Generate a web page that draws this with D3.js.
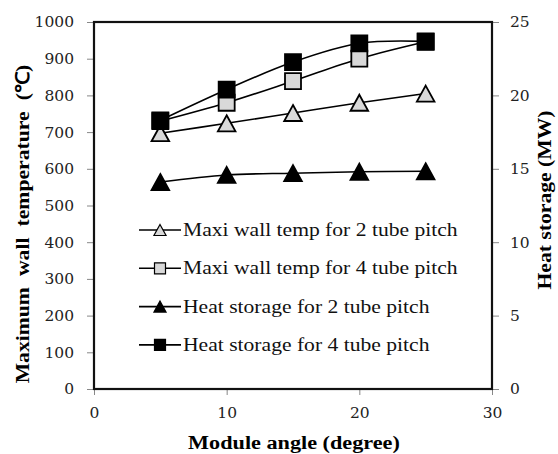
<!DOCTYPE html>
<html>
<head>
<meta charset="utf-8">
<script src="https://d3js.org/d3.v7.min.js"></script>
<style>
  body { margin: 0; background: #fff; }
  svg { display: block; }
</style>
</head>
<body>
<div id="chart"></div>
<script>
var angles = [5, 10, 15, 20, 25];
var wallTemp2 = [697, 724, 752, 780, 805];
var wallTemp4 = [730, 780, 839, 900, 946];
var heat2 = [14.1, 14.58, 14.7, 14.8, 14.83];
var heat4 = [18.3, 20.4, 22.27, 23.55, 23.68];

var xTicks = [0, 10, 20, 30];
var yTicks = [0, 100, 200, 300, 400, 500, 600, 700, 800, 900, 1000];
var y2Ticks = [0, 5, 10, 15, 20, 25];

var legendNames = [
  "Maxi wall temp for 2 tube pitch",
  "Maxi wall temp for 4 tube pitch",
  "Heat storage for 2 tube pitch",
  "Heat storage for 4 tube pitch"
];

var W = 558, H = 454;
var margin = { top: 22, right: 66, bottom: 65, left: 94 };

var svg = d3.select("#chart").append("svg")
  .attr("width", W)
  .attr("height", H);

var x = d3.scaleLinear().domain([0, 30]).range([margin.left, W - margin.right]);
var y = d3.scaleLinear().domain([0, 1000]).range([H - margin.bottom, margin.top]);
var y2 = d3.scaleLinear().domain([0, 25]).range([H - margin.bottom, margin.top]);

var tickFont = "DejaVu Serif";
var textFont = "Liberation Serif";

// axes (ticks outside)
var xAxis = svg.append("g")
  .attr("transform", "translate(0," + y.range()[0] + ")")
  .call(d3.axisBottom(x).tickValues(xTicks).tickFormat(d3.format("d")).tickSize(6).tickPadding(12));
var yAxis = svg.append("g")
  .attr("transform", "translate(" + x.range()[0] + ",0)")
  .call(d3.axisLeft(y).tickValues(yTicks).tickFormat(d3.format("d")).tickSize(7).tickPadding(13));
var y2Axis = svg.append("g")
  .attr("transform", "translate(" + x.range()[1] + ",0)")
  .call(d3.axisRight(y2).tickValues(y2Ticks).tickFormat(d3.format("d")).tickSize(7).tickPadding(11));

[xAxis, yAxis, y2Axis].forEach(function(a) {
  a.attr("font-family", null).attr("font-size", null);
  a.select(".domain").remove();
  a.selectAll(".tick line").attr("stroke", "#888").attr("stroke-width", 1);
  a.selectAll(".tick text")
    .attr("fill", "#222")
    .attr("font-family", tickFont)
    .attr("font-size", 15.5);
});

// plot frame
svg.append("rect")
  .attr("x", x.range()[0])
  .attr("y", y.range()[1])
  .attr("width", x.range()[1] - x.range()[0])
  .attr("height", y.range()[0] - y.range()[1])
  .attr("fill", "none")
  .attr("stroke", "#111")
  .attr("stroke-width", 2.2);

// marker shapes
function triPath(s) {
  var w = s * 1.1, h = s;
  return "M0," + (-h / 2) + "L" + (w / 2) + "," + (h / 2) + "L" + (-w / 2) + "," + (h / 2) + "Z";
}
function sqPath(s) {
  return "M" + (-s / 2) + "," + (-s / 2) + "h" + s + "v" + s + "h" + (-s) + "Z";
}

var series = [
  { name: legendNames[0], vals: wallTemp2, scale: y, shape: "tri", fill: "#d9d9d9" },
  { name: legendNames[1], vals: wallTemp4, scale: y, shape: "sq", fill: "#d9d9d9" },
  { name: legendNames[2], vals: heat2, scale: y2, shape: "tri", fill: "#000" },
  { name: legendNames[3], vals: heat4, scale: y2, shape: "sq", fill: "#000" }
];

var line = d3.line().curve(d3.curveCatmullRom.alpha(0.5));

series.forEach(function(s) {
  var pts = angles.map(function(a, i) { return [x(a), s.scale(s.vals[i])]; });
  svg.append("path")
    .attr("d", line(pts))
    .attr("fill", "none")
    .attr("stroke", "#000")
    .attr("stroke-width", 1.6);
});

series.forEach(function(s) {
  angles.forEach(function(a, i) {
    svg.append("path")
      .attr("transform", "translate(" + x(a) + "," + s.scale(s.vals[i]) + ")")
      .attr("d", s.shape == "tri" ? triPath(16) : sqPath(16))
      .attr("fill", s.fill)
      .attr("stroke", "#000")
      .attr("stroke-width", 1.8);
  });
});

// legend
var legend = svg.append("g");
series.forEach(function(s, i) {
  var ly = 230 + i * 38.3;
  legend.append("line")
    .attr("x1", 139).attr("x2", 181)
    .attr("y1", ly).attr("y2", ly)
    .attr("stroke", "#000").attr("stroke-width", 1.6);
  legend.append("path")
    .attr("transform", "translate(160," + ly + ")")
    .attr("d", s.shape == "tri" ? triPath(11) : sqPath(11))
    .attr("fill", s.fill)
    .attr("stroke", "#000")
    .attr("stroke-width", 1.2);
  legend.append("text")
    .attr("transform", "translate(183," + (ly + 6) + ") scale(1.2,1)")
    .attr("font-family", textFont)
    .attr("font-size", 18)
    .attr("fill", "#111")
    .text(s.name);
});

// axis titles
svg.append("text")
  .attr("transform", "translate(" + ((x.range()[0] + x.range()[1]) / 2 + 1) + ",449) scale(1.17,1)")
  .attr("text-anchor", "middle")
  .attr("font-family", textFont)
  .attr("font-weight", "bold")
  .attr("font-size", 19)
  .text("Module angle (degree)");

svg.append("text")
  .attr("transform", "translate(29,224) rotate(-90) scale(1.14,1)")
  .attr("text-anchor", "middle")
  .attr("font-family", textFont)
  .attr("font-weight", "bold")
  .attr("font-size", 19)
  .attr("word-spacing", 5)
  .text("Maximum wall temperature (℃)");

svg.append("text")
  .attr("transform", "translate(551,200) rotate(-90) scale(1.14,1)")
  .attr("text-anchor", "middle")
  .attr("font-family", textFont)
  .attr("font-weight", "bold")
  .attr("font-size", 19)
  .text("Heat storage (MW)");
</script>
</body>
</html>
